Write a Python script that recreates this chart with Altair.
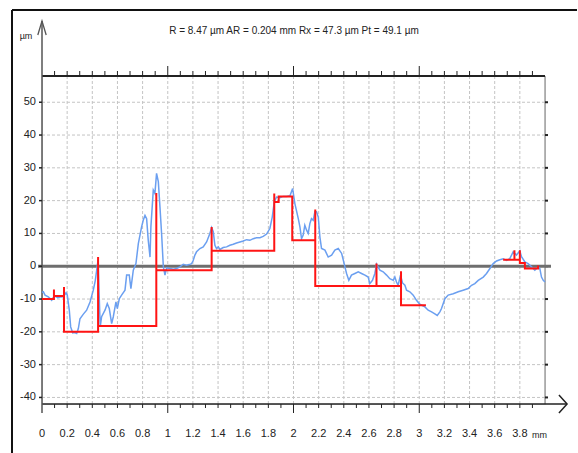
import altair as alt
import pandas as pd

# ---------------- data ----------------
blue_x = [0.0, 0.011, 0.024, 0.05, 0.077, 0.09, 0.103, 0.125, 0.143, 0.17, 0.191, 0.201, 0.217, 0.228, 0.244,
          0.26, 0.276, 0.289, 0.302, 0.329, 0.355, 0.382, 0.408, 0.424, 0.435, 0.446, 0.456, 0.463, 0.474,
          0.501, 0.519, 0.535, 0.554, 0.567, 0.588, 0.599, 0.615, 0.633, 0.66, 0.673, 0.694, 0.707, 0.726,
          0.747, 0.766, 0.792, 0.805, 0.819, 0.832, 0.845, 0.859, 0.866, 0.885, 0.898, 0.911, 0.925, 0.938,
          0.951, 0.965, 0.978, 0.991, 1.017, 1.045, 1.07, 1.097, 1.123, 1.15, 1.17, 1.19, 1.203, 1.216, 1.229,
          1.256, 1.282, 1.309, 1.335, 1.349, 1.362, 1.375, 1.388, 1.402, 1.415, 1.441, 1.468, 1.494, 1.521,
          1.547, 1.574, 1.6, 1.627, 1.653, 1.68, 1.706, 1.733, 1.759, 1.786, 1.812, 1.831, 1.847, 1.865,
          1.892, 1.918, 1.945, 1.972, 1.993, 2.011, 2.038, 2.051, 2.064, 2.077, 2.09, 2.104, 2.117, 2.13,
          2.143, 2.157, 2.17, 2.183, 2.197, 2.21, 2.223, 2.25, 2.276, 2.303, 2.329, 2.356, 2.383, 2.409,
          2.422, 2.44, 2.461, 2.488, 2.515, 2.541, 2.568, 2.594, 2.607, 2.628, 2.647, 2.66, 2.687, 2.713,
          2.74, 2.766, 2.793, 2.806, 2.819, 2.832, 2.851, 2.867, 2.886, 2.899, 2.925, 2.952, 2.978, 3.005,
          3.045, 3.071, 3.098, 3.124, 3.143, 3.164, 3.177, 3.204, 3.23, 3.27, 3.31, 3.349, 3.389, 3.416,
          3.442, 3.469, 3.509, 3.535, 3.562, 3.588, 3.615, 3.641, 3.668, 3.694, 3.72, 3.747, 3.773, 3.8,
          3.813, 3.84, 3.866, 3.893, 3.919, 3.946, 3.959, 3.972, 3.986, 4.0]
blue_y = [-8.0, -7.8, -8.8, -9.3, -10.4, -9.5, -9.1, -9.6, -9.4, -9.3, -8.1, -8.8, -13.4, -18.5, -20.3,
          -20.2, -20.5, -19.0, -16.0, -14.6, -13.4, -10.9, -7.3, -4.3, -1.2, 2.0, -10.4, -18.5, -15.4,
          -13.4, -11.4, -12.9, -17.5, -15.4, -10.9, -12.9, -9.9, -8.8, -7.3, -2.7, -2.7, -6.8, -1.2,
          0.8, 6.9, 12.0, 14.0, 15.5, 14.5, 7.9, 2.8, 12.0, 23.2, 22.2, 28.3, 25.8, 18.1,
          10.0, -0.2, -2.7, -0.5, -0.7, -0.9, -0.7, -0.2, 0.6, 0.3, 0.5, 0.8, 1.8, 3.4, 4.4,
          5.4, 5.9, 7.4, 10.0, 11.8, 10.5, 6.4, 5.4, 5.9, 5.1, 5.7, 5.9, 6.4, 6.7,
          7.1, 7.4, 7.7, 8.1, 7.9, 8.4, 8.7, 8.7, 9.1, 9.8, 11.5, 15.0, 19.6, 21.1,
          20.9, 21.3, 21.3, 21.5, 23.7, 19.1, 14.5, 12.0, 8.4, 9.5, 12.5, 11.0, 10.0, 13.0,
          14.5, 14.0, 16.6, 16.6, 15.0, 8.9, 5.4, 4.9, 2.8, 3.4, 4.9, 5.4, 3.9, -0.2,
          -2.2, -4.3, -2.7, -2.2, -1.7, -2.2, -2.7, -3.3, -5.3, -4.3, -2.2, 0.6, -1.2, -1.7,
          -2.7, -3.8, -4.3, -3.3, -4.8, -5.8, -2.7, -5.1, -5.8, -7.3, -7.8, -8.8, -10.4, -11.6,
          -12.4, -13.4, -13.9, -14.5, -15.0, -13.9, -12.9, -9.9, -8.8, -8.4, -7.8, -7.3, -6.8, -5.8,
          -5.3, -4.3, -3.3, -2.2, -0.7, 0.8, 1.6, 2.0, 2.3, 1.8, 2.3, 4.4, 3.4, 4.7,
          2.9, 1.3, 0.8, -0.2, -1.2, -0.2, -0.7, -3.3, -4.3, -4.8]

red_a_x = [0.0, 0.095, 0.095, 0.095, 0.175, 0.175, 0.175, 0.446, 0.446, 0.446, 0.909, 0.909, 0.909,
           1.349, 1.349, 1.349, 1.847, 1.847, 1.847, 1.882, 1.882, 1.99, 1.99, 2.173, 2.173, 2.173,
           2.66, 2.66, 2.66, 2.855, 2.855, 2.855, 3.053]
red_a_y = [-10.0, -10.0, -7.1, -9.1, -9.1, -6.3, -20.0, -20.0, 2.8, -18.2, -18.2, 22.3, -1.2,
           -1.2, 12.0, 4.7, 4.7, 22.2, 19.6, 19.6, 21.3, 21.3, 7.9, 7.9, 17.3, -6.0,
           -6.0, 0.8, -6.0, -6.0, -1.5, -11.9, -11.9]
red_b_x = [3.667, 3.757, 3.757, 3.757, 3.80, 3.80, 3.80, 3.84, 3.84, 3.945, 3.945]
red_b_y = [2.0, 2.0, 4.9, 2.0, 2.0, 4.9, 1.0, 1.0, -0.7, -0.7, 0.2]

x_label_values = [0, 0.2, 0.4, 0.6, 0.8, 1, 1.2, 1.4, 1.6, 1.8, 2, 2.2, 2.4, 2.6, 2.8, 3, 3.2, 3.4, 3.6, 3.8]
x_label_texts = ["0", "0.2", "0.4", "0.6", "0.8", "1", "1.2", "1.4", "1.6", "1.8", "2", "2.2", "2.4",
                 "2.6", "2.8", "3", "3.2", "3.4", "3.6", "3.8"]
v_grid_values = [0.2, 0.4, 0.6, 0.8, 1, 1.2, 1.4, 1.6, 1.8, 2, 2.2, 2.4, 2.6, 2.8, 3, 3.2, 3.4, 3.6, 3.8]
y_label_values = [-40, -30, -20, -10, 0, 10, 20, 30, 40, 50]
y_label_texts = ["-40", "-30", "-20", "-10", "0", "10", "20", "30", "40", "50"]
h_grid_values = [-40, -30, -20, -10, 10, 20, 30, 40, 50]
minor_tick_values = [0.1, 0.2, 0.3, 0.4, 0.5, 0.6, 0.7, 0.8, 0.9, 1.1, 1.2, 1.3, 1.4, 1.5, 1.6, 1.7, 1.8,
                     1.9, 2.1, 2.2, 2.3, 2.4, 2.5, 2.6, 2.7, 2.8, 2.9, 3.1, 3.2, 3.3, 3.4, 3.5, 3.6, 3.7,
                     3.8, 3.9]
major_tick_values = [1, 2, 3]
title_text = "R = 8.47 µm  AR = 0.204 mm  Rx = 47.3 µm  Pt = 49.1 µm"

# ---------------- chart ----------------
W, H = 503, 328
FONT = "Liberation Sans, Arial, sans-serif"
INK = "#222222"

xs = alt.Scale(domain=[0, 4], nice=False, zero=False)
ys = alt.Scale(domain=[-42, 58], nice=False, zero=False)


def X(f):
    return alt.X(f, type="quantitative", scale=xs, axis=None)


def Y(f):
    return alt.Y(f, type="quantitative", scale=ys, axis=None)


one = pd.DataFrame({"d": [0]})
df_blue = pd.DataFrame({"x": blue_x, "y": blue_y})
df_red = pd.concat([
    pd.DataFrame({"x": red_a_x, "y": red_a_y, "seg": "a", "i": range(len(red_a_x))}),
    pd.DataFrame({"x": red_b_x, "y": red_b_y, "seg": "b", "i": range(len(red_b_x))}),
])
df_vg = pd.DataFrame({"x": v_grid_values})
df_hg = pd.DataFrame({"y": h_grid_values})
df_xl = pd.DataFrame({"x": x_label_values, "label": x_label_texts})
df_yl = pd.DataFrame({"y": y_label_values, "label": y_label_texts})
df_minor = pd.DataFrame({"x": minor_tick_values})
df_major = pd.DataFrame({"x": major_tick_values})
df_zero = pd.DataFrame({"y": [0]})

grid_style = dict(color="#c4c4c4", strokeDash=[3, 2], strokeWidth=1)

layers = [
    alt.Chart(df_vg).mark_rule(**grid_style).encode(x=X("x"), y=alt.value(0), y2=alt.value(H)),
    alt.Chart(df_hg).mark_rule(**grid_style).encode(y=Y("y"), x=alt.value(0), x2=alt.value(W)),
    alt.Chart(one).mark_rule(color="#8a8a8a", strokeWidth=1.2).encode(
        x=alt.value(W), y=alt.value(0), y2=alt.value(H)),
    alt.Chart(df_yl).mark_rule(color=INK, strokeWidth=2).encode(
        y=Y("y"), x=alt.value(W), x2=alt.value(W + 3)),
    alt.Chart(df_zero).mark_rule(color="#6e6e6e", strokeWidth=3).encode(
        y=Y("y"), x=alt.value(-4), x2=alt.value(W + 6)),
    # top border line with ticks
    alt.Chart(one).mark_rule(color=INK, strokeWidth=2).encode(
        x=alt.value(0), x2=alt.value(W), y=alt.value(0)),
    alt.Chart(df_minor).mark_rule(color=INK, strokeWidth=1).encode(
        x=X("x"), y=alt.value(0), y2=alt.value(-5)),
    alt.Chart(df_major).mark_rule(color=INK, strokeWidth=1).encode(
        x=X("x"), y=alt.value(0), y2=alt.value(-10)),
    # bottom axis
    alt.Chart(one).mark_rule(color=INK, strokeWidth=1.5).encode(
        x=alt.value(0), x2=alt.value(525), y=alt.value(H)),
    alt.Chart(df_minor).mark_rule(color=INK, strokeWidth=1).encode(
        x=X("x"), y=alt.value(H), y2=alt.value(H + 4)),
    alt.Chart(df_major).mark_rule(color=INK, strokeWidth=1).encode(
        x=X("x"), y=alt.value(H), y2=alt.value(H + 9)),
    alt.Chart(one).mark_point(shape="M -0.45 -1 L 0.45 0 L -0.45 1", filled=False, color=INK,
                              strokeWidth=1.5, size=324, opacity=1).encode(
        x=alt.value(521), y=alt.value(H)),
    # y axis
    alt.Chart(one).mark_rule(color="#555555", strokeWidth=1.5).encode(
        x=alt.value(0), y=alt.value(-55), y2=alt.value(H + 9)),
    alt.Chart(one).mark_point(shape="M -0.6 1 L 0 -1 L 0.6 1", filled=False, color="#555555",
                              strokeWidth=1.3, size=196, opacity=1).encode(
        x=alt.value(0), y=alt.value(-48)),
    alt.Chart(df_yl).mark_rule(color=INK, strokeWidth=1.5).encode(
        y=Y("y"), x=alt.value(-3), x2=alt.value(0)),
    alt.Chart(df_yl).mark_text(align="right", baseline="middle", font=FONT, fontSize=11, color=INK).encode(
        y=Y("y"), x=alt.value(-6), text="label:N"),
    alt.Chart(df_xl).mark_text(align="center", baseline="middle", font=FONT, fontSize=11, color=INK).encode(
        x=X("x"), y=alt.value(358), text="label:N"),
    alt.Chart(one).mark_text(align="left", baseline="middle", font=FONT, fontSize=9, color=INK,
                             text="mm").encode(x=alt.value(490), y=alt.value(359)),
    alt.Chart(one).mark_text(align="center", baseline="middle", font=FONT, fontSize=9, color=INK,
                             text="µm").encode(x=alt.value(-16), y=alt.value(-40)),
    alt.Chart(one).mark_text(align="center", baseline="middle", font=FONT, fontSize=10, color=INK,
                             text=title_text).encode(x=alt.value(252), y=alt.value(-45)),
    # outer frame
    alt.Chart(one).mark_rule(color="#111111", strokeWidth=2).encode(
        x=alt.value(-30), y=alt.value(-66), y2=alt.value(380)),
    alt.Chart(one).mark_rule(color="#111111", strokeWidth=2).encode(
        x=alt.value(-30), x2=alt.value(535), y=alt.value(-66)),
    # data
    alt.Chart(df_blue).mark_line(color="#6b9ff0", strokeWidth=1.5).encode(x=X("x"), y=Y("y")),
    alt.Chart(df_red).mark_line(color="#ff1414", strokeWidth=2).encode(
        x=X("x"), y=Y("y"), detail="seg:N", order="i:Q"),
]

chart = alt.layer(*layers).properties(
    width=W, height=H,
    padding={"left": 42, "top": 76, "right": 578 - 42 - W, "bottom": 453 - 76 - H},
    autosize=alt.AutoSizeParams(type="none"),
).configure_view(stroke=None).configure(background="white")

chart.save("out.html", embed_options={"renderer": "svg", "actions": False})
